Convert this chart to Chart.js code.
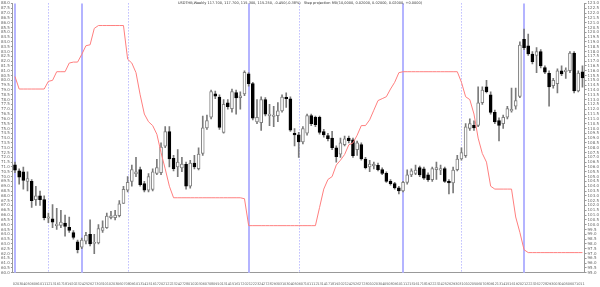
<!DOCTYPE html>
<html>
<head>
<title>Candles</title>
<script src="https://cdn.jsdelivr.net/npm/chart.js"></script>
<style>body{margin:0;background:#fff}</style>
</head>
<body>
<canvas id="chart" width="600" height="287"></canvas>
<script>
// trading days shown under the candles
const labels = [
  '02','03','04','05','06','09','10','11','12','13','16','17','18','19','20','23','24','25','26','27','30','31',
  '01','02','03','06','07','08','09','10','13','14','15','16','17','20','21','22','23','24','27','28',
  '01','02','03','06','07','08','09','10','13','14','15','16','17','20','21','22','23','24','27','28','29','30','31',
  '03','04','05','06','07','10','11','12','13','14','17','18','19','20','21','24','25','26','27','28',
  '01','02','03','04','05','08','09','10','11','12','15','16','17','18','19','22','23','24','25','26','29','30','31',
  '01','02','05','06','07','08','09','12','13','14','15','16','19','20','21','22','23','26','27','28','29','30',
  '03','04','05','06','07','10','11'
];

const open = [
  106.23,105.6,105.5,104.5,104.5,102.6,103.0,102.6,100.67,100.6,
  99.9,99.93,100.17,99.73,99.17,98.23,97.67,98.3,99.0,98.05,
  98.1,99.4,99.7,100.73,100.73,100.93,102.2,103.6,104.5,105.27,
  105.73,104.27,103.6,103.67,105.33,105.4,108.17,109.67,106.9,106.0,
  105.9,106.27,104.0,106.4,105.83,107.4,110.07,111.17,113.6,113.27,
  109.6,112.67,112.07,113.73,113.2,113.6,115.67,114.67,110.67,110.6,
  113.0,111.33,111.25,111.33,111.83,113.25,113.07,109.5,109.33,108.6,
  109.5,111.33,111.17,111.17,109.67,109.27,109.0,108.0,107.33,108.33,
  109.0,108.83,107.8,108.33,106.83,106.0,106.1,106.17,105.73,105.33,
  104.5,104.27,103.83,103.5,104.4,105.17,105.33,105.93,105.8,105.17,
  104.67,105.73,105.67,105.83,104.5,104.33,105.73,106.83,107.17,110.0,
  110.33,110.33,112.67,114.33,113.5,111.67,110.83,110.5,111.17,111.83,
  112.33,113.33,119.27,118.6,117.73,117.6,118.0,116.33,115.73,114.45,
  114.67,116.0,115.9,116.0,117.83,113.9,115.9
];
const close = [
  105.67,104.93,104.6,104.8,102.5,103.0,102.6,100.73,100.83,100.27,
  100.07,100.27,99.83,99.4,98.67,97.4,98.4,98.9,98.0,98.15,
  99.6,99.7,100.9,100.93,101.0,102.17,103.67,104.4,105.73,105.5,
  104.17,103.6,105.0,105.5,105.93,108.07,109.67,106.83,105.83,106.5,
  106.3,104.0,106.4,106.0,107.33,110.07,110.83,113.83,113.35,110.1,
  112.5,112.27,113.83,113.17,113.4,115.83,114.67,111.07,111.17,113.0,
  111.5,111.5,111.4,111.83,113.27,113.1,109.83,109.33,108.6,110.0,
  111.33,110.5,110.4,109.6,109.33,108.93,108.0,107.07,108.5,108.93,
  108.73,107.17,108.5,106.83,105.93,106.3,106.3,105.73,105.33,104.5,
  104.27,103.83,103.5,104.4,105.17,105.6,105.67,105.17,104.83,104.67,
  105.83,105.93,105.83,104.5,104.33,105.67,106.83,107.5,110.17,110.5,
  110.07,112.67,114.0,113.83,111.67,110.67,110.33,111.17,112.07,112.0,
  112.9,118.67,118.4,117.75,116.95,118.0,116.5,115.85,114.33,115.0,
  116.0,115.67,116.07,117.83,113.9,115.75,115.25
];
const high = [
  106.5,105.8,106.0,105.5,104.7,104.0,103.5,103.0,101.2,102.1,
  101.7,101.5,101.0,100.8,99.4,98.4,98.6,99.2,100.5,99.0,
  100.0,100.4,101.2,101.4,101.5,102.5,104.0,105.0,106.2,107.0,
  106.0,104.5,105.3,105.8,106.8,108.5,110.2,110.2,107.2,107.8,
  107.0,106.5,106.7,107.2,108.0,111.3,111.4,114.0,113.9,113.5,
  113.0,113.0,114.1,114.0,113.8,116.0,115.8,114.8,113.0,113.3,
  113.2,112.5,112.3,112.7,113.5,113.7,113.3,110.0,109.6,110.2,
  111.5,111.5,111.3,111.3,109.9,109.5,109.7,108.2,109.0,109.2,
  109.2,109.0,108.7,108.5,107.0,106.7,106.5,106.4,105.9,105.5,
  104.7,104.4,104.0,104.5,105.7,105.8,106.2,106.1,106.0,105.4,
  106.0,106.5,106.2,106.0,104.7,106.0,107.2,108.0,110.5,111.0,
  110.8,114.33,114.33,115.0,113.8,111.9,111.1,111.4,112.3,114.2,
  114.2,119.0,120.33,119.8,118.0,118.4,118.2,116.5,116.0,115.2,
  116.2,116.5,116.3,118.0,118.0,116.0,116.5
];
const low = [
  105.4,104.2,103.7,103.5,101.8,102.0,102.0,100.5,100.2,99.7,
  99.5,99.7,98.8,99.2,98.5,97.07,97.5,98.0,97.8,97.0,
  98.0,99.2,99.6,100.6,100.5,100.8,102.2,103.4,104.0,105.0,
  104.0,103.4,103.4,103.5,105.2,105.2,108.0,106.0,105.6,105.0,
  105.5,103.7,103.8,105.8,105.7,107.2,109.9,111.0,113.1,109.9,
  109.5,112.0,111.7,111.5,112.0,113.4,114.4,110.9,110.5,109.8,
  111.3,110.3,110.2,110.7,111.7,112.2,109.7,108.2,107.0,108.4,
  109.3,110.3,110.2,109.4,109.1,108.7,107.8,106.5,107.0,108.2,
  108.5,107.0,107.2,106.7,105.8,105.5,105.8,105.6,105.2,104.4,
  104.1,103.7,103.2,103.4,104.2,105.0,105.2,105.0,104.7,104.5,
  104.5,104.7,105.2,104.4,103.2,103.3,105.6,106.7,107.0,109.8,
  109.8,110.2,112.5,113.7,111.5,110.5,108.7,110.0,111.0,111.7,
  112.0,113.2,118.2,117.6,116.7,115.8,116.3,115.7,112.33,114.2,
  113.7,115.5,115.2,115.8,113.7,113.8,114.3
];

// red stop line, read against the left axis
const stopLine = [
  80.4,79.1,79.1,79.1,79.1,79.1,79.1,79.1,79.9,80.0,
  80.9,80.9,80.9,81.8,81.9,81.9,82.7,83.6,83.7,85.4,
  85.7,85.7,85.7,85.7,85.7,85.7,85.7,82.2,81.8,80.8,
  78.5,76.5,75.7,75.3,74.4,72.5,70.8,69.0,67.8,67.8,
  67.8,67.8,67.8,67.8,67.8,67.8,67.8,67.8,67.8,67.8,
  67.8,67.8,67.8,67.8,67.8,67.7,64.9,64.9,64.9,64.9,
  64.9,64.9,64.9,64.9,64.9,64.9,64.9,64.9,64.9,64.9,
  64.9,64.9,64.9,66.8,68.7,69.7,70.0,71.2,71.7,72.3,
  73.3,73.5,74.3,75.3,75.3,75.9,76.9,77.9,78.1,78.3,
  79.1,79.8,80.8,80.9,80.9,80.9,80.9,80.9,80.9,80.9,
  80.9,80.9,80.9,80.9,80.9,80.9,80.9,79.8,78.3,78.0,
  76.5,74.0,72.4,71.5,69.0,68.7,68.7,68.7,68.7,68.7,
  65.8,64.2,62.4,62.1,62.1,62.1,62.1,62.1,62.1,62.1,
  62.1,62.1,62.1,62.1,62.1,62.1,62.1
];

// candle indexes carrying the period separators
const solidMarks = [0, 16, 56, 93, 122];
const dottedMarks = [8, 27, 68, 107];

const titleText = 'USDTHB,Weekly 117.700, 117.700, 115.300, 115.250, -0.450(-0.38%)   Step projection RSI(10,0000, 0.02000, 0.02000, 0.02000, +0.0000)';

const up = close.map((c, i) => c >= open[i]);

const markers = {
  id: 'markers',
  beforeDatasetsDraw(chart) {
    const {ctx, chartArea, scales} = chart;
    ctx.save();
    const line = (i, dash, color, width, shift) => {
      const x = Math.round(scales.x.getPixelForValue(i)) + shift;
      ctx.setLineDash(dash);
      ctx.lineWidth = width;
      ctx.strokeStyle = color;
      ctx.beginPath();
      ctx.moveTo(x, chartArea.top);
      ctx.lineTo(x, chartArea.bottom);
      ctx.stroke();
    };
    dottedMarks.forEach(i => line(i, [1, 2], '#9c9cff', 1, 0.5));
    solidMarks.forEach(i => line(i, [], '#b4b4ff', 2, 0));
    ctx.restore();
  },
  afterDraw(chart) {
    const ctx = chart.ctx;
    ctx.save();
    ctx.font = '3.5px "DejaVu Sans"';
    ctx.fillStyle = '#333';
    ctx.textAlign = 'center';
    ctx.textBaseline = 'top';
    ctx.fillText(titleText, 300, 1);
    ctx.restore();
  }
};

const tickFont = {family: 'DejaVu Sans', size: 4};

new Chart(document.getElementById('chart'), {
  type: 'bar',
  data: {
    labels: labels,
    datasets: [
      {
        type: 'line',
        data: stopLine,
        yAxisID: 'y1',
        borderColor: '#ff7f7f',
        borderWidth: 1,
        pointRadius: 0,
        tension: 0,
        order: 0
      },
      {
        data: open.map((o, i) => [o, close[i]]),
        yAxisID: 'y',
        backgroundColor: up.map(u => u ? '#ffffff' : '#000000'),
        borderColor: up.map(u => u ? '#808080' : '#000000'),
        borderWidth: 1,
        borderSkipped: false,
        barThickness: 3,
        minBarLength: 1,
        grouped: false,
        order: 1
      },
      {
        data: low.map((l, i) => [l, high[i]]),
        yAxisID: 'y',
        backgroundColor: '#7a7a7a',
        barThickness: 1,
        grouped: false,
        order: 2
      }
    ]
  },
  options: {
    responsive: false,
    animation: false,
    layout: {padding: 0},
    plugins: {legend: {display: false}, tooltip: {enabled: false}, title: {display: false}},
    scales: {
      x: {
        grid: {display: false},
        border: {display: true, color: '#999'},
        ticks: {autoSkip: false, maxRotation: 0, minRotation: 0, padding: 1, color: '#666', font: {family: 'DejaVu Sans', size: 3.5}}
      },
      y: {
        position: 'right',
        min: 95, max: 123,
        grid: {drawOnChartArea: false, tickLength: 2, color: '#999'},
        border: {display: true, color: '#999'},
        ticks: {stepSize: 0.5, autoSkip: false, padding: 1, color: '#666', font: tickFont, callback: v => v.toFixed(1)}
      },
      y1: {
        position: 'left',
        min: 60, max: 88,
        grid: {drawOnChartArea: false, tickLength: 2, color: '#999'},
        border: {display: true, color: '#999'},
        ticks: {stepSize: 0.5, autoSkip: false, padding: 1, color: '#666', font: tickFont, callback: v => v.toFixed(1)}
      }
    }
  },
  plugins: [markers]
});
</script>
</body>
</html>
